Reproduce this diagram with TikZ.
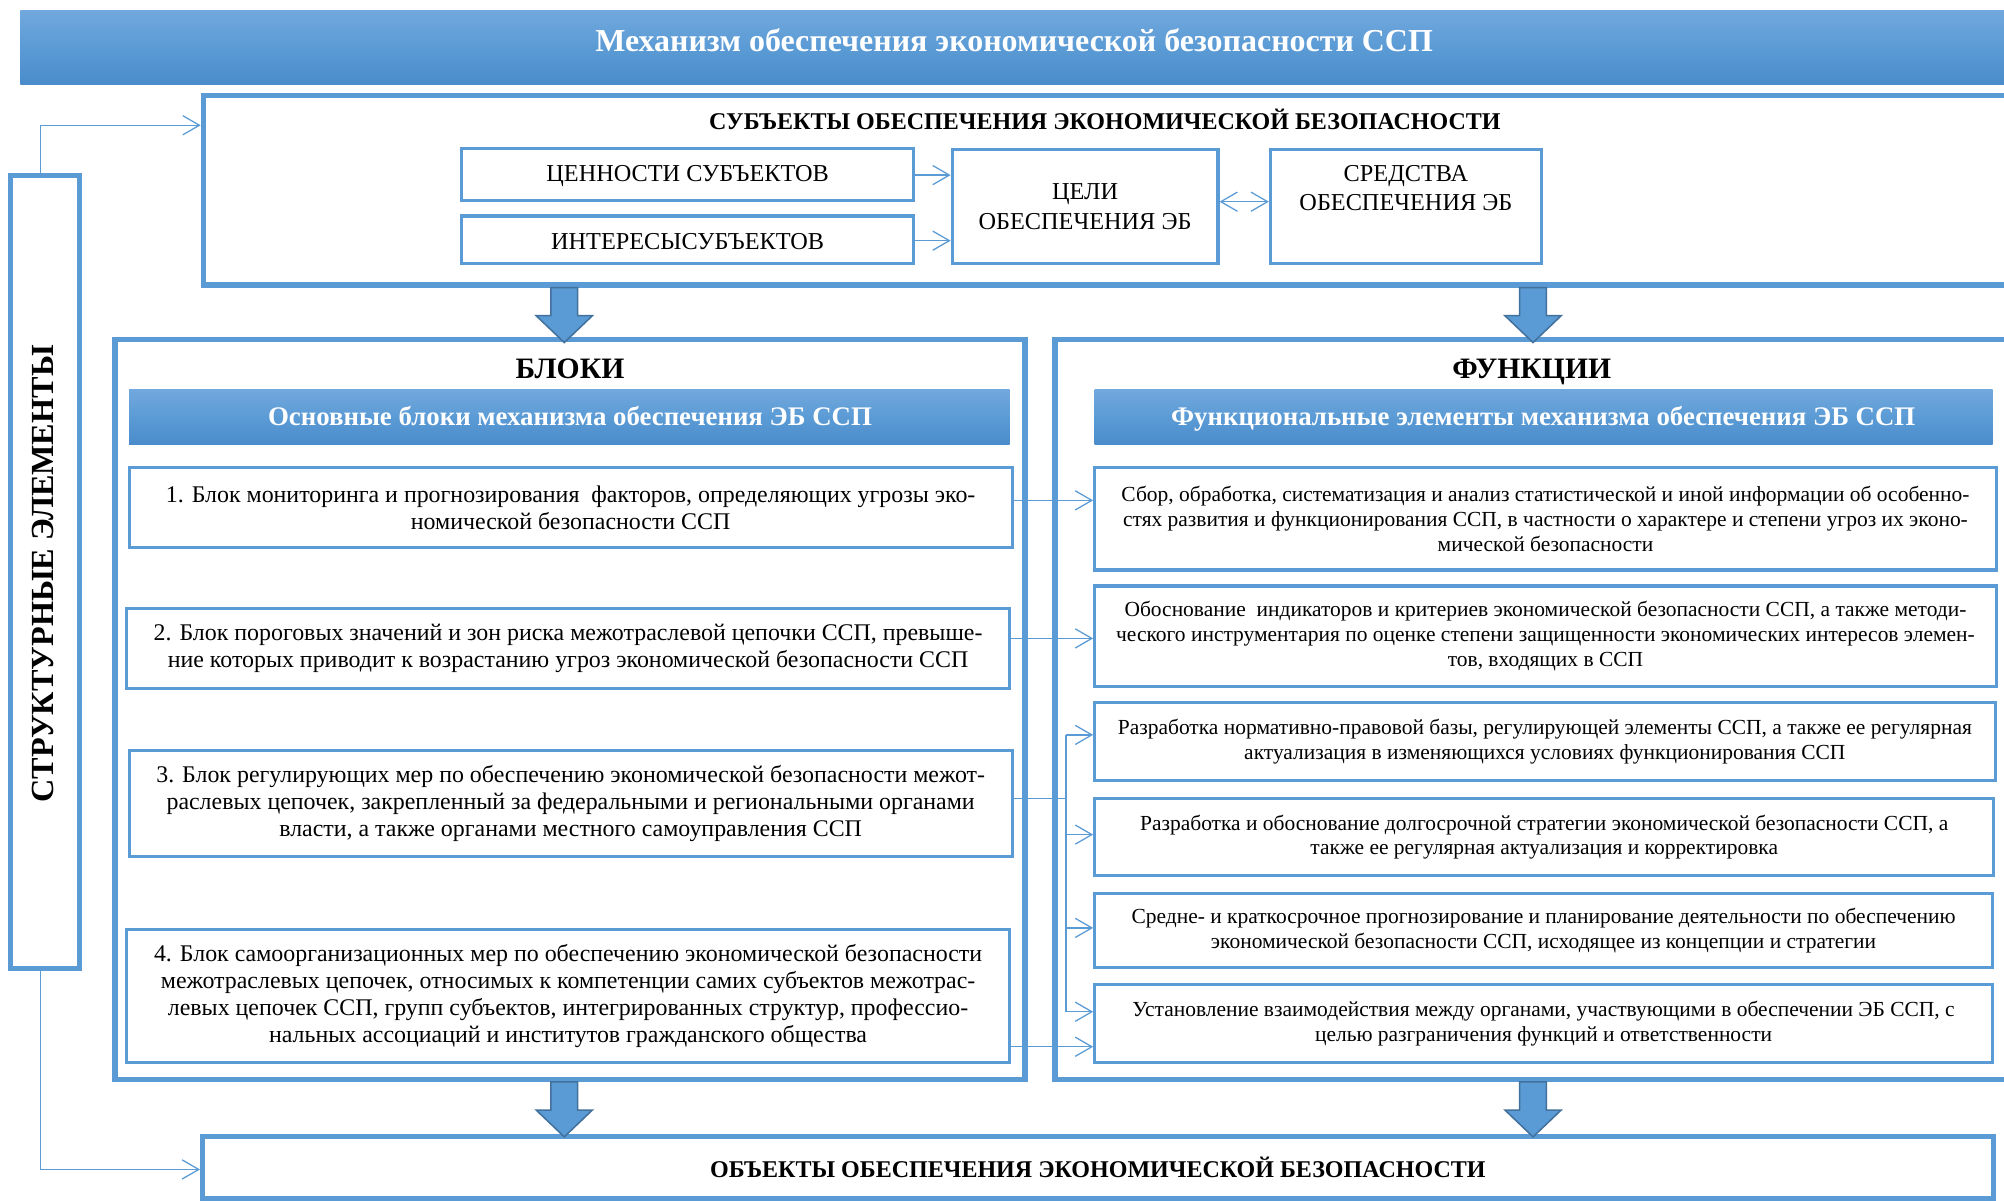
\documentclass[tikz,border=0pt]{standalone}
\usepackage{fontspec}
\setmainfont{Liberation Serif}
\usetikzlibrary{arrows.meta,calc}
\definecolor{ob}{HTML}{5B9BD5}
\definecolor{obtop}{HTML}{71A8DD}
\definecolor{obbot}{HTML}{4A8BCB}
\definecolor{obdark}{HTML}{41719C}
\newcommand\ftitle{\fontsize{12.5}{14}\selectfont\bfseries}
\newcommand\fsec{\fontsize{9.4}{11}\selectfont\bfseries}
\newcommand\fsub{\fontsize{9.5}{11.5}\selectfont}
\newcommand\fhead{\fontsize{11.6}{13}\selectfont\bfseries}
\newcommand\fbar{\fontsize{10.5}{12}\selectfont\bfseries}
\newcommand\fblk{\fontsize{9.35}{10.5}\selectfont}
\newcommand\ffun{\fontsize{8.4}{9.65}\selectfont}
\newcommand\fstruct{\fontsize{12.6}{14}\selectfont\bfseries}
\newcommand\mybox[7]{\node[#1, minimum width={(#5-#3)*0.5pt}, minimum height={(#6-#4)*0.5pt}] (#2) at ({(#3+#5)/2},{(#4+#6)/2}) {#7};}
\tikzset{
  frame/.style={draw=ob, line width=2pt, inner sep=0pt},
  ibox/.style={draw=ob, line width=1.2pt, inner sep=0pt, align=center, text=black},
  bar/.style={top color=obtop, bottom color=obbot, middle color=ob, draw=none, inner sep=0pt},
  lbl/.style={anchor=base, inner sep=0pt},
  plain/.style={draw=ob, line width=0.5pt},
  conn/.style={draw=ob, line width=0.5pt, -{Straight Barb[length=6.5pt,width=7.5pt]}},
  conn2/.style={draw=ob, line width=0.5pt, {Straight Barb[length=6.5pt,width=7.5pt]}-{Straight Barb[length=6.5pt,width=7.5pt]}},
  bigarr/.pic={\draw[fill=ob, draw=obdark, line width=0.6pt] (-10.5,0) -- (10.5,0) -- (10.5,22) -- (22,22) -- (0,43) -- (-22,22) -- (-10.5,22) -- cycle;}
}
\begin{document}
\begin{tikzpicture}[x=0.5pt,y=-0.5pt]
\useasboundingbox (0,0) rectangle (1568,939);
% title
\mybox{bar}{title}{16}{8}{1580}{66}{}
\node[lbl, font=\ftitle, text=white] (titleT) at (793.5,40.4) {Механизм обеспечения экономической безопасности ССП};
% subjects
\mybox{frame}{subj}{159}{74.5}{1580}{223}{}
\node[lbl, font=\fsec] (subjT) at (864.5,101.7) {СУБЪЕКТЫ ОБЕСПЕЧЕНИЯ ЭКОНОМИЧЕСКОЙ БЕЗОПАСНОСТИ};
\mybox{ibox}{val}{361}{116}{715}{157}{}
\node[lbl, font=\fsub] (valT) at (538,142) {ЦЕННОСТИ СУБЪЕКТОВ};
\mybox{ibox}{int}{361}{169}{715}{206.5}{}
\node[lbl, font=\fsub] (intT) at (538,195) {ИНТЕРЕСЫСУБЪЕКТОВ};
\mybox{ibox, font=\fsub}{goal}{745}{117}{953}{206.5}{ЦЕЛИ\\ОБЕСПЕЧЕНИЯ ЭБ}
\mybox{ibox}{means}{994}{117}{1206}{206.5}{}
\node[font=\fsub, align=center] (meansT) at (1100,147) {СРЕДСТВА\\ОБЕСПЕЧЕНИЯ ЭБ};
\draw[conn] (val.east |- 0,137) -- (goal.west |- 0,137);
\draw[conn] (int.east |- 0,188.3) -- (goal.west |- 0,188.3);
\draw[conn2] (goal.east |- 0,157.8) -- (means.west |- 0,157.8);
% structural elements
\mybox{frame}{struct}{8.5}{137}{62}{758}{}
\node[font=\fstruct, rotate=90] (structT) at (33.5,449) {СТРУКТУРНЫЕ ЭЛЕМЕНТЫ};
% blocks and functions frames
\mybox{frame}{blk}{90}{265.5}{802}{844.5}{}
\mybox{frame}{fun}{825.5}{265.5}{1580}{844.5}{}
\node[lbl, font=\fhead] (blkT) at (446,296) {БЛОКИ};
\node[lbl, font=\fhead] (funT) at (1198.5,296) {ФУНКЦИИ};
\mybox{bar}{bH}{101}{305}{790}{348}{}
\node[lbl, font=\fbar, text=white] (bHT) at (446,333.3) {Основные блоки механизма обеспечения ЭБ ССП};
\mybox{bar}{fH}{856.5}{305}{1559}{348}{}
\node[lbl, font=\fbar, text=white] (fHT) at (1207.5,333.3) {Функциональные элементы механизма обеспечения ЭБ ССП};
% blocks
\mybox{ibox, font=\fblk}{B1}{101}{365.5}{792}{428.5}{1. Блок мониторинга и прогнозирования\ \ факторов, определяющих угрозы эко-\\номической безопасности ССП}
\mybox{ibox, font=\fblk}{B2}{99}{476}{790}{538.5}{2. Блок пороговых значений и зон риска межотраслевой цепочки ССП, превыше-\\ние которых приводит к возрастанию угроз экономической безопасности ССП}
\mybox{ibox, font=\fblk}{B3}{101}{587}{792}{670.5}{3. Блок регулирующих мер по обеспечению экономической безопасности межот-\\раслевых цепочек, закрепленный за федеральными и региональными органами\\власти, а также органами местного самоуправления ССП}
\mybox{ibox, font=\fblk}{B4}{99}{727}{790}{831.5}{4. Блок самоорганизационных мер по обеспечению экономической безопасности\\межотраслевых цепочек, относимых к компетенции самих субъектов межотрас-\\левых цепочек ССП, групп субъектов, интегрированных структур, профессио-\\нальных ассоциаций и институтов гражданского общества}
% functions
\mybox{ibox, font=\ffun}{F1}{856.5}{366}{1562}{446}{Сбор, обработка, систематизация и анализ статистической и иной информации об особенно-\\стях развития и функционирования ССП, в частности о характере и степени угроз их эконо-\\мической безопасности}
\mybox{ibox, font=\ffun}{F2}{856.5}{458.5}{1562}{537}{Обоснование\ \ индикаторов и критериев экономической безопасности ССП, а также методи-\\ческого инструментария по оценке степени защищенности экономических интересов элемен-\\тов, входящих в ССП}
\mybox{ibox, font=\ffun}{F3}{856.5}{550}{1561}{611}{Разработка нормативно-правовой базы, регулирующей элементы ССП, а также ее регулярная\\актуализация в изменяющихся условиях функционирования ССП}
\mybox{ibox, font=\ffun}{F4}{856.5}{625}{1560}{685}{Разработка и обоснование долгосрочной стратегии экономической безопасности ССП, а\\также ее регулярная актуализация и корректировка}
\mybox{ibox, font=\ffun}{F5}{856.5}{699}{1559}{757}{Средне- и краткосрочное прогнозирование и планирование деятельности по обеспечению\\экономической безопасности ССП, исходящее из концепции и стратегии}
\mybox{ibox, font=\ffun}{F6}{856.5}{770}{1559}{831.5}{Установление взаимодействия между органами, участвующими в обеспечении ЭБ ССП, с\\целью разграничения функций и ответственности}
% objects
\mybox{frame}{obj}{158.5}{889.5}{1560}{937.5}{}
\node[lbl, font=\fsec] (objT) at (859,921.5) {ОБЪЕКТЫ ОБЕСПЕЧЕНИЯ ЭКОНОМИЧЕСКОЙ БЕЗОПАСНОСТИ};
% big arrows
\pic at (441.5,0 |- subj.south) {bigarr};
\pic at (1199.5,0 |- subj.south) {bigarr};
\pic at (441.5,0 |- blk.south) {bigarr};
\pic at (1199.5,0 |- fun.south) {bigarr};
% side connectors
\draw[conn] (struct.north -| 31.5,0) |- (subj.west |- 0,98);
\draw[conn] (struct.south -| 31.5,0) |- (obj.west |- 0,915);
% block-function connectors
\draw[conn] (B1.east |- 0,391.5) -- (F1.west |- 0,391.5);
\draw[conn] (B2.east |- 0,499.5) -- (F2.west |- 0,499.5);
\coordinate (bus) at (834,624.5);
\draw[plain] (B3.east |- bus) -- (bus);
\draw[plain] (bus |- 0,575) -- (bus |- 0,791.6);
\draw[conn] (bus |- 0,575) -- (F3.west |- 0,575);
\draw[conn] (bus |- 0,653) -- (F4.west |- 0,653);
\draw[conn] (bus |- 0,726) -- (F5.west |- 0,726);
\draw[conn] (bus |- 0,791.6) -- (F6.west |- 0,791.6);
\draw[conn] (B4.east |- 0,819) -- (F6.west |- 0,819);
\end{tikzpicture}
\end{document}
